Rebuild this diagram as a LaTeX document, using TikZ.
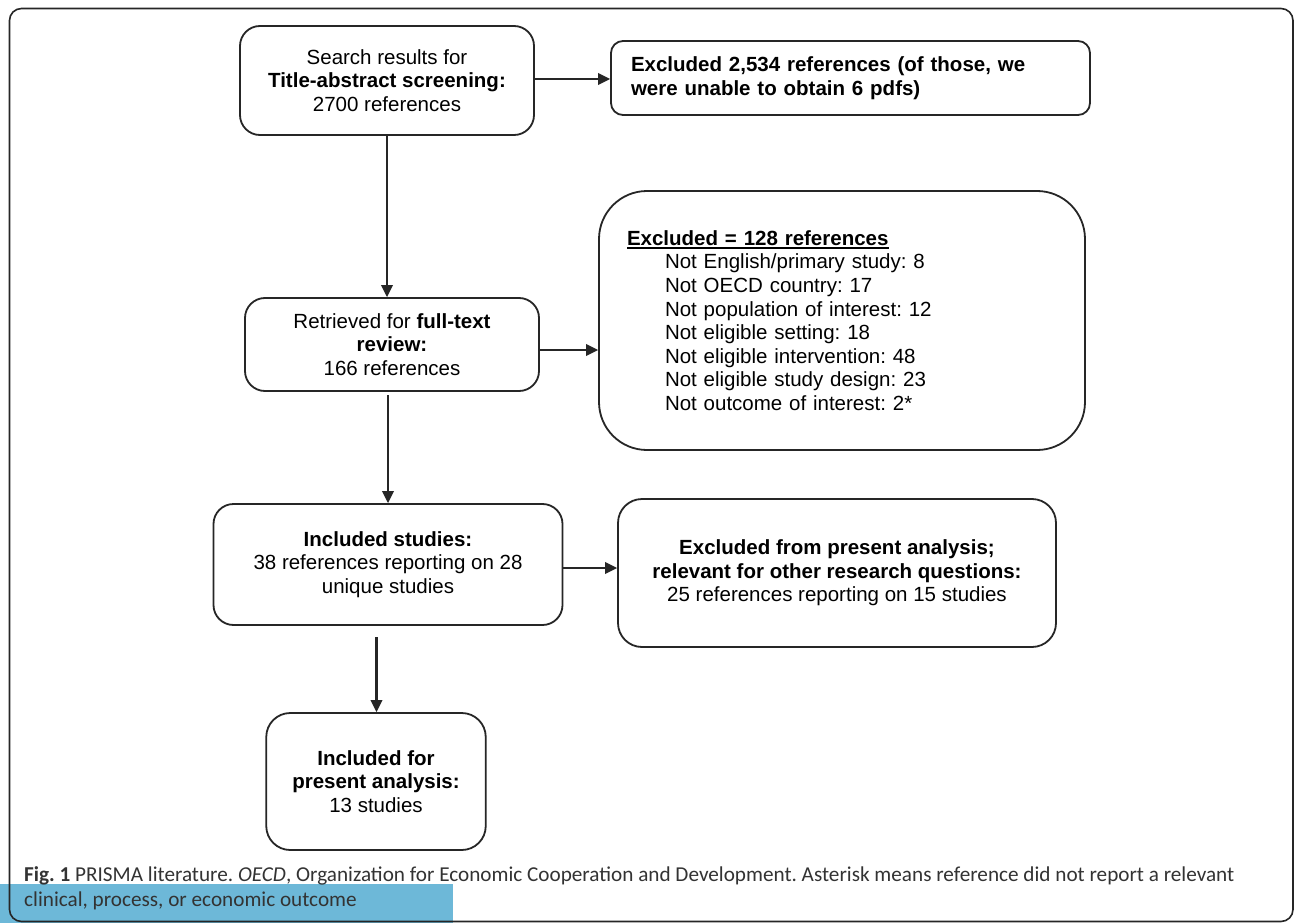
\documentclass[tikz,border=0pt]{standalone}
\usepackage{fontspec}
\setmainfont{Liberation Sans}
\newfontfamily\capfont{Carlito}
\newcommand\myuline[1]{\setbox0\hbox{#1}\rlap{\rule[-3.4pt]{\wd0}{1.8pt}}\box0}
\usetikzlibrary{arrows.meta}
\definecolor{linec}{HTML}{262626}
\definecolor{capblue}{HTML}{6DB8D8}
\definecolor{capgray}{HTML}{333333}
\begin{document}
\frenchspacing
\begin{tikzpicture}[x=1pt,y=-1pt,
 flowbox/.style={draw=linec, line width=1.8pt, rounded corners=20pt,
   font=\fontsize{20.5}{23.6}\selectfont, align=center, inner sep=0pt, text=black},
 arr/.style={draw=linec, line width=2.1pt, -{Triangle[length=12pt,width=11.5pt]}},
 captext/.style={anchor=base west, inner sep=0pt, text=capgray,
   font=\capfont\fontsize{21.2}{25}\selectfont}]
\useasboundingbox (0,0) rectangle (1296,923);
\fill[white] (0,0) rectangle (1296,923);
\fill[capblue] (0,884) rectangle (453,923);
\draw[linec, line width=1.6pt, rounded corners=12pt] (9.5,8.5) rectangle (1293,921.5);

\node[flowbox, minimum width=294pt, minimum height=109pt] (search) at (387,80.5)
  {Search results for\\\textbf{Title-abstract screening:}\\2700 references};
\node[flowbox, rounded corners=12pt, minimum width=479pt, minimum height=74pt,
  align=left, text width=439pt] (exc1) at (850.5,78)
  {\textbf{Excluded 2,534 references (of those, we}\\\textbf{were unable to obtain 6 pdfs)}};
\node[flowbox, minimum width=294pt, minimum height=93pt] (full) at (392,344.5)
  {Retrieved for \textbf{full-text}\\\textbf{review:}\\166 references};
\node[flowbox, rounded corners=48pt, minimum width=486pt, minimum height=259pt,
  align=left, text width=430pt] (exc2) at (842,320.5)
  {\myuline{\textbf{Excluded = 128 references}}\\
   \hspace*{38pt}Not English/primary study: 8\\
   \hspace*{38pt}Not OECD country: 17\\
   \hspace*{38pt}Not population of interest: 12\\
   \hspace*{38pt}Not eligible setting: 18\\
   \hspace*{38pt}Not eligible intervention: 48\\
   \hspace*{38pt}Not eligible study design: 23\\
   \hspace*{38pt}Not outcome of interest: 2*};
\node[flowbox, minimum width=349pt, minimum height=121pt] (incl) at (388,564.5)
  {\textbf{Included studies:}\\38 references reporting on 28\\unique studies};
\node[flowbox, rounded corners=24pt, minimum width=438pt, minimum height=148pt] (exc3) at (837,573)
  {\textbf{Excluded from present analysis;}\\\textbf{relevant for other research questions:}\\25 references reporting on 15 studies};
\node[flowbox, rounded corners=24pt, minimum width=219.5pt, minimum height=137pt] (pres) at (376,781.5)
  {\textbf{Included for}\\\textbf{present analysis:}\\13 studies};

\coordinate (s4) at (388,395);
\coordinate (s5) at (376.5,637);
\draw[arr] (search.east |- 0,79) -- (exc1.west |- 0,79);
\draw[arr] (search.south) -- (search.south |- full.north);
\draw[arr] (full.east |- 0,350) -- (exc2.west |- 0,350);
\draw[arr] (s4) -- (s4 |- incl.north);
\draw[arr] (incl.east |- 0,568) -- (exc3.west |- 0,568);
\draw[arr] (s5) -- (s5 |- pres.north);

\node[captext] (cap1) at (24,881) {\textbf{Fig. 1} PRISMA literature. \textit{OECD}, Organization for Economic Cooperation and Development. Asterisk means reference did not report a relevant};
\node[captext] (cap2) at (24,906.5) {clinical, process, or economic outcome};
\end{tikzpicture}
\end{document}
